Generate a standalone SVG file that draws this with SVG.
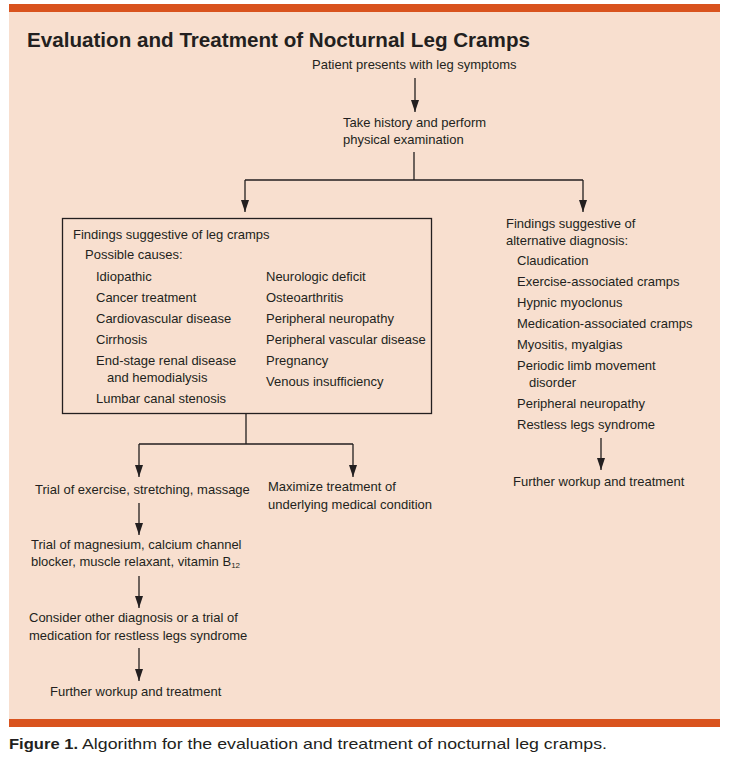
<svg xmlns="http://www.w3.org/2000/svg" width="731" height="757" viewBox="0 0 731 757">
<defs>
<marker id="ah" viewBox="0 0 12 8" refX="12" refY="4" markerWidth="12" markerHeight="8" markerUnits="userSpaceOnUse" orient="auto">
<path d="M0,0 L12,4 L0,8 Z" fill="#231f20"/>
</marker>
</defs>
<style>
text{font-family:"Liberation Sans",Arial,sans-serif;font-size:13px;fill:#231f20}
.title{font-size:21px;font-weight:bold}
.cap{font-size:15px}
.ln{fill:none;stroke:#231f20;stroke-width:1.3}
.arr{fill:none;stroke:#231f20;stroke-width:1.3}
</style>
<rect x="0" y="0" width="731" height="757" fill="#ffffff"/>
<rect x="9" y="12" width="711" height="707" fill="#f8dfcf"/>
<rect x="9" y="4" width="711" height="8" fill="#d9531e"/>
<rect x="9" y="719" width="711" height="8" fill="#d9531e"/>
<text class="title" x="27" y="47" textLength="503" lengthAdjust="spacingAndGlyphs">Evaluation and Treatment of Nocturnal Leg Cramps</text>

<g id="connectors">
<path class="arr" d="M415,78 V112" marker-end="url(#ah)"/>
<path class="ln" d="M414,152 V180 M245,180 H583"/>
<path class="arr" d="M245,180 V212" marker-end="url(#ah)"/>
<path class="arr" d="M583,180 V212" marker-end="url(#ah)"/>
<path class="ln" d="M246,414 V444 M139,444 H353"/>
<path class="arr" d="M139,444 V477" marker-end="url(#ah)"/>
<path class="arr" d="M353,444 V477" marker-end="url(#ah)"/>
<path class="arr" d="M139,503 V535" marker-end="url(#ah)"/>
<path class="arr" d="M139,576 V608" marker-end="url(#ah)"/>
<path class="arr" d="M139,648 V681" marker-end="url(#ah)"/>
<path class="arr" d="M601,438 V470" marker-end="url(#ah)"/>
</g>

<g id="n-start">
<text x="312" y="69">Patient presents with leg symptoms</text>
</g>
<g id="n-history">
<text x="343" y="127">Take history and perform</text>
<text x="343" y="144">physical examination</text>
</g>
<g id="n-cramps">
<rect x="62.5" y="218.5" width="369" height="195" fill="none" stroke="#231f20" stroke-width="1.3"/>
<text x="73" y="239">Findings suggestive of leg cramps</text>
<text x="85" y="259">Possible causes:</text>
<text x="96" y="281">Idiopathic</text>
<text x="96" y="302">Cancer treatment</text>
<text x="96" y="323">Cardiovascular disease</text>
<text x="96" y="344">Cirrhosis</text>
<text x="96" y="365">End-stage renal disease</text>
<text x="107" y="382">and hemodialysis</text>
<text x="96" y="403">Lumbar canal stenosis</text>
<text x="266" y="281">Neurologic deficit</text>
<text x="266" y="302">Osteoarthritis</text>
<text x="266" y="323">Peripheral neuropathy</text>
<text x="266" y="344">Peripheral vascular disease</text>
<text x="266" y="365">Pregnancy</text>
<text x="266" y="386">Venous insufficiency</text>
</g>
<g id="n-alt">
<text x="506" y="228">Findings suggestive of</text>
<text x="506" y="245">alternative diagnosis:</text>
<text x="517" y="265">Claudication</text>
<text x="517" y="286">Exercise-associated cramps</text>
<text x="517" y="307">Hypnic myoclonus</text>
<text x="517" y="328">Medication-associated cramps</text>
<text x="517" y="349">Myositis, myalgias</text>
<text x="517" y="370">Periodic limb movement</text>
<text x="529" y="387">disorder</text>
<text x="517" y="408">Peripheral neuropathy</text>
<text x="517" y="429">Restless legs syndrome</text>
</g>
<g id="n-further-right">
<text x="513" y="486">Further workup and treatment</text>
</g>
<g id="n-exercise">
<text x="35" y="494">Trial of exercise, stretching, massage</text>
</g>
<g id="n-maximize">
<text x="268" y="491">Maximize treatment of</text>
<text x="268" y="509">underlying medical condition</text>
</g>
<g id="n-magnesium">
<text x="31" y="549">Trial of magnesium, calcium channel</text>
<text x="31" y="566">blocker, muscle relaxant, vitamin B<tspan font-size="8" dy="2">12</tspan></text>
</g>
<g id="n-consider">
<text x="29" y="622">Consider other diagnosis or a trial of</text>
<text x="29" y="640">medication for restless legs syndrome</text>
</g>
<g id="n-further-left">
<text x="50" y="696">Further workup and treatment</text>
</g>
<text class="cap" x="9" y="749" font-weight="bold" textLength="69" lengthAdjust="spacingAndGlyphs">Figure 1.</text>
<text class="cap" x="82" y="749" textLength="525" lengthAdjust="spacingAndGlyphs">Algorithm for the evaluation and treatment of nocturnal leg cramps.</text>
</svg>
